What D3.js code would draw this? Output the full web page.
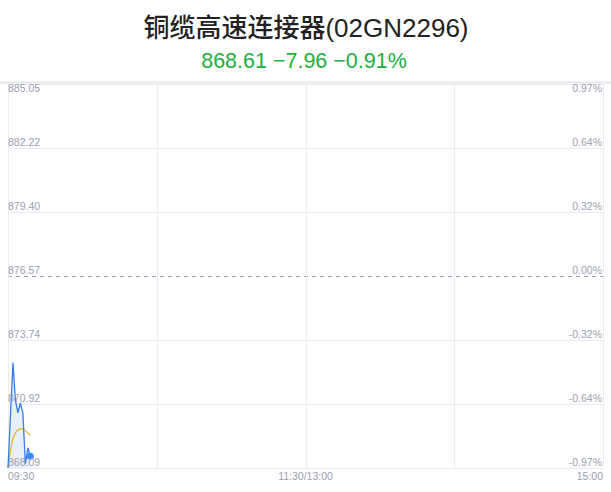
<!DOCTYPE html>
<html lang="zh">
<head>
<meta charset="UTF-8"/>
<title>铜缆高速连接器(02GN2296)</title>
<script src="https://d3js.org/d3.v7.min.js"></script>
<style>
    body { margin: 0; background: #fff; }
    svg { display: block; font-family: "Liberation Sans", "Noto Sans CJK SC", sans-serif; }
</style>
</head>
<body>
<script>
    // chart data
    var title = "铜缆高速连接器(02GN2296)";
    var quote = "868.61 \u22127.96 \u22120.91%";
    var preClose = 876.57;
    var priceTicks = [885.05, 882.22, 879.40, 876.57, 873.74, 870.92, 868.09];
    var pctTicks = ["0.97%", "0.64%", "0.32%", "0.00%", "-0.32%", "-0.64%", "-0.97%"];
    var timeLabels = ["09:30", "11:30/13:00", "15:00"];
    // minutes since open
    var minutes = [0, 1, 2, 3, 4, 5, 6, 7, 8, 9];
    var prices = [868.09, 870.39, 872.74, 871.06, 870.53, 870.97, 870.53, 868.27, 868.98, 868.61];
    var avgPrices = [868.09, 868.84, 869.37, 869.64, 869.77, 869.82, 869.82, 869.73, 869.64, 869.55];

    var w = 611, h = 492;
    // plot box (note: "top" is taken by window.top, so use pTop etc)
    var pLeft = 8, pRight = 603, pTop = 84, pBottom = 468;

    var svg = d3.select("body").append("svg")
        .attr("width", w)
        .attr("height", h);

    // title and quote
    svg.append("text")
        .attr("x", 306).attr("y", 37)
        .attr("text-anchor", "middle")
        .attr("font-size", "26px")
        .attr("font-weight", 500)
        .attr("fill", "#222")
        .text(title);

    svg.append("text")
        .attr("x", 304).attr("y", 68)
        .attr("text-anchor", "middle")
        .attr("font-size", "21.5px")
        .attr("fill", "#20b03c")
        .text(quote);

    // scales
    var xScale = d3.scaleLinear().domain([0, 240]).range([pLeft, pRight]);
    var yScale = d3.scaleLinear()
        .domain([d3.min(priceTicks), d3.max(priceTicks)])
        .range([pBottom, pTop]);

    // top border
    svg.append("line")
        .attr("x1", 0).attr("x2", w)
        .attr("y1", 82.5).attr("y2", 82.5)
        .attr("stroke", "#e6e6ec").attr("stroke-width", 2);

    // horizontal grid
    svg.selectAll("line.hgrid")
        .data(priceTicks)
        .enter()
        .append("line")
        .attr("class", "hgrid")
        .attr("x1", pLeft).attr("x2", pRight)
        .attr("y1", function (d) { return Math.round(yScale(d)) + 0.5; })
        .attr("y2", function (d) { return Math.round(yScale(d)) + 0.5; })
        .attr("stroke", function (d) { return d === preClose ? "#9aa2bb" : "#ebebf0"; })
        .attr("stroke-dasharray", function (d) { return d === preClose ? "4,4" : null; });

    // vertical grid
    svg.selectAll("line.vgrid")
        .data([0, 60, 120, 180, 240])
        .enter()
        .append("line")
        .attr("class", "vgrid")
        .attr("x1", function (d) { return Math.round(xScale(d)) + 0.5; })
        .attr("x2", function (d) { return Math.round(xScale(d)) + 0.5; })
        .attr("y1", pTop).attr("y2", pBottom)
        .attr("stroke", "#ebebf0");

    // area under price
    var area = d3.area()
        .x(function (d, i) { return xScale(minutes[i]); })
        .y0(pBottom)
        .y1(function (d) { return yScale(d); });

    svg.append("path")
        .datum(prices)
        .attr("d", area)
        .attr("fill", "#e6eefb")
        .attr("opacity", 0.9);

    // avg line
    var line = d3.line()
        .x(function (d, i) { return xScale(minutes[i]); })
        .y(function (d) { return yScale(d); })
        .curve(d3.curveMonotoneX);

    svg.append("path")
        .datum(avgPrices)
        .attr("d", line)
        .attr("fill", "none")
        .attr("stroke", "#e8b620")
        .attr("stroke-width", 1.2);

    // price line
    var priceLine = d3.line()
        .x(function (d, i) { return xScale(minutes[i]); })
        .y(function (d) { return yScale(d); });

    svg.append("path")
        .datum(prices)
        .attr("d", priceLine)
        .attr("fill", "none")
        .attr("stroke", "#3a7bea")
        .attr("stroke-width", 1.3);

    // last point dot
    var last = prices.length - 1;
    svg.append("circle")
        .attr("cx", xScale(minutes[last]))
        .attr("cy", yScale(prices[last]))
        .attr("r", 3.5)
        .attr("fill", "#3a8bf5");

    // y labels: top one sits under its line, the rest above
    function labelY(i) {
        var y = yScale(priceTicks[i]);
        return i === 0 ? y + 8 : y - 2;
    }

    svg.selectAll("text.pl")
        .data(priceTicks)
        .enter()
        .append("text")
        .attr("class", "pl")
        .attr("x", pLeft)
        .attr("y", function (d, i) { return labelY(i); })
        .attr("font-size", "10.5px")
        .attr("fill", "#9aa0b2")
        .text(function (d) { return d.toFixed(2); });

    svg.selectAll("text.pr")
        .data(pctTicks)
        .enter()
        .append("text")
        .attr("class", "pr")
        .attr("x", pRight - 1)
        .attr("y", function (d, i) { return labelY(i); })
        .attr("text-anchor", "end")
        .attr("font-size", "10.5px")
        .attr("fill", "#9aa0b2")
        .text(function (d) { return d; });

    // time labels
    var anchors = ["start", "middle", "end"];
    svg.selectAll("text.tl")
        .data(timeLabels)
        .enter()
        .append("text")
        .attr("class", "tl")
        .attr("x", function (d, i) { return xScale(i * 120); })
        .attr("y", 480)
        .attr("text-anchor", function (d, i) { return anchors[i]; })
        .attr("font-size", "10.5px")
        .attr("fill", "#9aa0b2")
        .text(function (d) { return d; });
</script>
</body>
</html>
